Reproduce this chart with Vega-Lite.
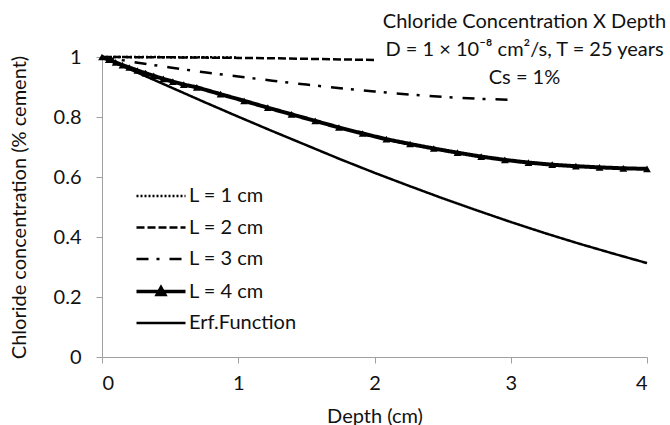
{
  "$schema": "https://vega.github.io/schema/vega-lite/v6.json",
  "width": 545,
  "height": 300,
  "autosize": "none",
  "padding": {"left": 102, "top": 57, "right": 23, "bottom": 68},
  "background": "white",
  "title": {
    "text": ["Chloride Concentration X Depth", "D = 1 × 10⁻⁸  cm²/s, T = 25 years", "Cs = 1%"],
    "anchor": "middle",
    "dx": 150,
    "offset": -41,
    "font": "Lato",
    "fontSize": 20,
    "fontWeight": "normal",
    "lineHeight": 28,
    "color": "#111111"
  },
  "config": {
    "view": {"stroke": null},
    "axis": {
      "grid": false,
      "domainColor": "#a0a0a0",
      "tickColor": "#a0a0a0",
      "tickSize": 6,
      "labelFont": "Lato",
      "labelFontSize": 20,
      "labelColor": "#111111",
      "titleFont": "Lato",
      "titleFontSize": 20,
      "titleFontWeight": "normal",
      "titleColor": "#111111"
    }
  },
  "data": {
    "values": [
      {"series": "L = 1 cm", "depth": 0, "conc": 1.0},
      {"series": "L = 1 cm", "depth": 0.25, "conc": 0.9998},
      {"series": "L = 1 cm", "depth": 0.5, "conc": 0.9995},
      {"series": "L = 1 cm", "depth": 0.75, "conc": 0.999},
      {"series": "L = 1 cm", "depth": 1, "conc": 0.998},
      {"series": "L = 2 cm", "depth": 0, "conc": 1.0},
      {"series": "L = 2 cm", "depth": 0.25, "conc": 0.9995},
      {"series": "L = 2 cm", "depth": 0.5, "conc": 0.999},
      {"series": "L = 2 cm", "depth": 0.75, "conc": 0.998},
      {"series": "L = 2 cm", "depth": 1, "conc": 0.997},
      {"series": "L = 2 cm", "depth": 1.25, "conc": 0.996},
      {"series": "L = 2 cm", "depth": 1.5, "conc": 0.994},
      {"series": "L = 2 cm", "depth": 1.75, "conc": 0.992},
      {"series": "L = 2 cm", "depth": 2, "conc": 0.99},
      {"series": "L = 3 cm", "depth": 0, "conc": 1.0},
      {"series": "L = 3 cm", "depth": 0.25, "conc": 0.982},
      {"series": "L = 3 cm", "depth": 0.5, "conc": 0.965},
      {"series": "L = 3 cm", "depth": 0.75, "conc": 0.949},
      {"series": "L = 3 cm", "depth": 1, "conc": 0.935},
      {"series": "L = 3 cm", "depth": 1.25, "conc": 0.921},
      {"series": "L = 3 cm", "depth": 1.5, "conc": 0.908},
      {"series": "L = 3 cm", "depth": 1.75, "conc": 0.896},
      {"series": "L = 3 cm", "depth": 2, "conc": 0.885},
      {"series": "L = 3 cm", "depth": 2.25, "conc": 0.875},
      {"series": "L = 3 cm", "depth": 2.5, "conc": 0.867},
      {"series": "L = 3 cm", "depth": 2.75, "conc": 0.861},
      {"series": "L = 3 cm", "depth": 3, "conc": 0.857},
      {"series": "L = 4 cm", "depth": 0, "conc": 1.0},
      {"series": "L = 4 cm", "depth": 0.05, "conc": 0.991},
      {"series": "L = 4 cm", "depth": 0.1, "conc": 0.982},
      {"series": "L = 4 cm", "depth": 0.15, "conc": 0.973},
      {"series": "L = 4 cm", "depth": 0.2, "conc": 0.965},
      {"series": "L = 4 cm", "depth": 0.26, "conc": 0.955},
      {"series": "L = 4 cm", "depth": 0.32, "conc": 0.946},
      {"series": "L = 4 cm", "depth": 0.38, "conc": 0.937},
      {"series": "L = 4 cm", "depth": 0.45, "conc": 0.927},
      {"series": "L = 4 cm", "depth": 0.52, "conc": 0.918},
      {"series": "L = 4 cm", "depth": 0.6, "conc": 0.908},
      {"series": "L = 4 cm", "depth": 0.696, "conc": 0.899},
      {"series": "L = 4 cm", "depth": 0.87, "conc": 0.876},
      {"series": "L = 4 cm", "depth": 1.043, "conc": 0.854},
      {"series": "L = 4 cm", "depth": 1.217, "conc": 0.831},
      {"series": "L = 4 cm", "depth": 1.391, "conc": 0.809},
      {"series": "L = 4 cm", "depth": 1.565, "conc": 0.787},
      {"series": "L = 4 cm", "depth": 1.739, "conc": 0.765},
      {"series": "L = 4 cm", "depth": 1.913, "conc": 0.745},
      {"series": "L = 4 cm", "depth": 2.087, "conc": 0.726},
      {"series": "L = 4 cm", "depth": 2.261, "conc": 0.71},
      {"series": "L = 4 cm", "depth": 2.435, "conc": 0.695},
      {"series": "L = 4 cm", "depth": 2.609, "conc": 0.681},
      {"series": "L = 4 cm", "depth": 2.783, "conc": 0.668},
      {"series": "L = 4 cm", "depth": 2.957, "conc": 0.657},
      {"series": "L = 4 cm", "depth": 3.13, "conc": 0.648},
      {"series": "L = 4 cm", "depth": 3.304, "conc": 0.641},
      {"series": "L = 4 cm", "depth": 3.478, "conc": 0.636},
      {"series": "L = 4 cm", "depth": 3.652, "conc": 0.632},
      {"series": "L = 4 cm", "depth": 3.826, "conc": 0.629},
      {"series": "L = 4 cm", "depth": 4, "conc": 0.627},
      {"series": "Erf.Function", "depth": 0, "conc": 1.0},
      {"series": "Erf.Function", "depth": 0.25, "conc": 0.95},
      {"series": "Erf.Function", "depth": 0.5, "conc": 0.9},
      {"series": "Erf.Function", "depth": 0.75, "conc": 0.85},
      {"series": "Erf.Function", "depth": 1, "conc": 0.801},
      {"series": "Erf.Function", "depth": 1.25, "conc": 0.753},
      {"series": "Erf.Function", "depth": 1.5, "conc": 0.706},
      {"series": "Erf.Function", "depth": 1.75, "conc": 0.659},
      {"series": "Erf.Function", "depth": 2, "conc": 0.614},
      {"series": "Erf.Function", "depth": 2.25, "conc": 0.571},
      {"series": "Erf.Function", "depth": 2.5, "conc": 0.529},
      {"series": "Erf.Function", "depth": 2.75, "conc": 0.489},
      {"series": "Erf.Function", "depth": 3, "conc": 0.45},
      {"series": "Erf.Function", "depth": 3.25, "conc": 0.413},
      {"series": "Erf.Function", "depth": 3.5, "conc": 0.378},
      {"series": "Erf.Function", "depth": 3.75, "conc": 0.345},
      {"series": "Erf.Function", "depth": 4, "conc": 0.313}
    ]
  },
  "encoding": {
    "x": {
      "field": "depth", "type": "quantitative",
      "scale": {"domain": [0, 4], "nice": false, "zero": false},
      "axis": {"title": "Depth (cm)", "values": [0, 1, 2, 3, 4], "format": "d", "labelPadding": 10, "titlePadding": 13}
    },
    "y": {
      "field": "conc", "type": "quantitative",
      "scale": {"domain": [0, 1], "nice": false},
      "axis": {"title": "Chloride concentration (% cement)", "values": [0, 0.2, 0.4, 0.6, 0.8, 1], "format": "~g", "labelPadding": 15, "titlePadding": 24}
    }
  },
  "layer": [
    {
      "mark": {"type": "line", "color": "black", "strokeCap": "butt"},
      "encoding": {
        "detail": {"field": "series"},
        "strokeDash": {
          "field": "series", "type": "nominal",
          "scale": {
            "domain": ["L = 1 cm", "L = 2 cm", "L = 3 cm", "L = 4 cm", "Erf.Function"],
            "range": [[2, 2], [8, 3], [12, 8, 3, 10], [1, 0], [1, 0]]
          },
          "legend": {
            "title": null,
            "orient": "none",
            "legendX": 49,
            "legendY": 129,
            "symbolType": "stroke",
            "symbolSize": 2401,
            "symbolStrokeColor": "black",
            "symbolStrokeWidth": 2.2,
            "labelFont": "Lato",
            "labelFontSize": 20,
            "labelColor": "#111111",
            "labelOffset": 18,
            "rowPadding": 11.5,
            "labelLimit": 300,
            "encode": {
              "symbols": {
                "update": {
                  "size": {"value": 2401},
                  "stroke": {"value": "black"},
                  "shape": {"signal": "datum.value === 'L = 4 cm' ? 'M-1,0L1,0M-0.15,0.12L0.15,0.12L0,-0.15Z' : 'stroke'"},
                  "fill": {"signal": "datum.value === 'L = 4 cm' ? 'black' : 'transparent'"},
                  "strokeWidth": {"signal": "datum.value === 'L = 4 cm' ? 3.5 : 2.4"}
                }
              }
            }
          }
        },
        "strokeWidth": {
          "condition": [
            {"test": "datum.series === 'L = 4 cm'", "value": 4},
            {"test": "datum.series === 'Erf.Function'", "value": 2.5}
          ],
          "value": 2.5
        }
      }
    },
    {
      "transform": [{"filter": "datum.series === 'L = 4 cm'"}],
      "mark": {"type": "point", "shape": "triangle-up", "filled": true, "color": "black", "size": 60, "opacity": 1}
    }
  ]
}
